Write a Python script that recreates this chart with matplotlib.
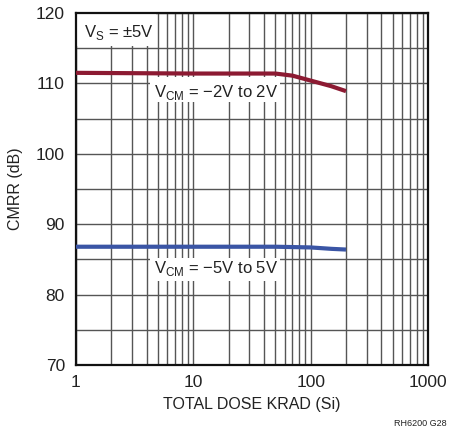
import matplotlib
matplotlib.use("Agg")
import matplotlib.pyplot as plt
from matplotlib.patches import Rectangle
import numpy as np

plt.rcParams['font.family'] = ['Liberation Sans', 'DejaVu Sans']

# data
dose_red = [1, 10, 30, 50, 70, 100, 150, 200]
cmrr_red = [111.5, 111.4, 111.4, 111.4, 111.1, 110.4, 109.6, 108.9]
dose_blue = [1, 10, 50, 100, 150, 200]
cmrr_blue = [86.8, 86.8, 86.8, 86.7, 86.5, 86.4]
xticks = [1, 10, 100, 1000]
xticklabels = ["1", "10", "100", "1000"]
yticks = [70, 80, 90, 100, 110, 120]

fig = plt.figure(figsize=(4.5, 4.3), dpi=100)
ax = fig.add_axes([76/450, 1-365/430, (428-76)/450, (365-13)/430])
ax.set_xscale("log")
ax.set_xlim(1, 1000)
ax.set_ylim(70, 120)

gc = "#555555"
for y in np.arange(70, 121, 5):
    ax.axhline(y, color=gc, lw=1.0, zorder=1)
for dec in [1, 10, 100]:
    for m in range(1, 10):
        ax.axvline(dec*m, color=gc, lw=1.0, zorder=1)

# white label backgrounds
for (x0, x1, y0, y1) in [(1, 4.8, 115.35, 120), (4.27, 54.8, 107.4, 110.95), (4.27, 54.8, 81.97, 85.24)]:
    ax.add_patch(Rectangle((x0, y0), x1 - x0, y1 - y0, facecolor="white", edgecolor="none", zorder=2))

ax.plot(dose_red, cmrr_red, color="#8C1A32", lw=3, solid_capstyle="butt", zorder=3)
ax.plot(dose_blue, cmrr_blue, color="#3A55A5", lw=3, solid_capstyle="butt", zorder=3)

ax.set_xticks(xticks)
ax.set_xticklabels(xticklabels)
ax.set_yticks(yticks)
ax.xaxis.set_minor_locator(matplotlib.ticker.NullLocator())
ax.tick_params(length=0, labelsize=12.5, colors="#222222")
ax.tick_params(axis="y", pad=8)
ax.tick_params(axis="x", pad=7)
for s in ax.spines.values():
    s.set_linewidth(1.6)
    s.set_color("#111111")

ax.set_xlabel("TOTAL DOSE KRAD (Si)", fontsize=11.5, color="#222222", labelpad=5)
ax.set_ylabel("CMRR (dB)", fontsize=11.5, color="#222222", labelpad=9)

tc = "#222222"
ax.text(1.17, 116.6, r"V$_\mathregular{S}$ = ±5V", fontsize=12, color=tc,
        va="baseline", ha="left", zorder=4)
ax.text(4.62, 108.1, r"V$_\mathregular{CM}$ = −2V to 2V", fontsize=12, color=tc,
        va="baseline", ha="left", zorder=4)
ax.text(4.62, 83.0, r"V$_\mathregular{CM}$ = −5V to 5V", fontsize=12, color=tc,
        va="baseline", ha="left", zorder=4)

fig.text(447/450, 1-424/430, "RH6200 G28", fontsize=6.5, color=tc, va="center", ha="right")

fig.savefig("out.png", dpi=100)
